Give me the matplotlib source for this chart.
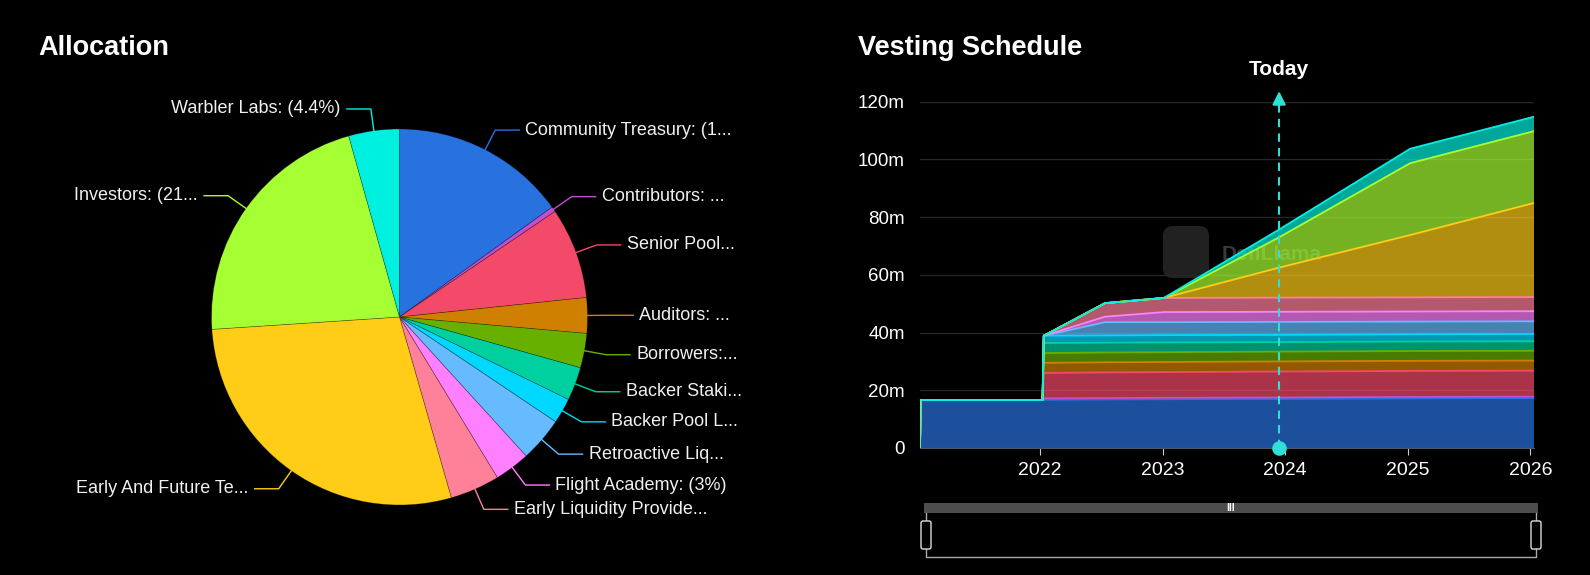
import matplotlib.pyplot as plt
import numpy as np
from matplotlib.patches import FancyBboxPatch, Rectangle

W, H = 1590, 575
BG = '#000000'
FONT = ['Liberation Sans', 'DejaVu Sans']

# allocation (pie) - labels as shown (truncated) and colours
pie_labels = ['Community Treasury: (1...', 'Contributors: ...', 'Senior Pool...',
              'Auditors: ...', 'Borrowers:...', 'Backer Staki...', 'Backer Pool L...',
              'Retroactive Liq...', 'Flight Academy: (3%)', 'Early Liquidity Provide...',
              'Early And Future Te...', 'Investors: (21...', 'Warbler Labs: (4.4%)']
colors = ['#2872e0', '#c050d0', '#f44a6a', '#d08000', '#68b000', '#00d0a0', '#00d8ff',
          '#66bbff', '#ff80ff', '#ff8099', '#ffcc18', '#a6ff33', '#00f0e0']

# vesting schedule, millions of tokens, same order as pie
t = [2021.02, 2021.025, 2022.02, 2022.03, 2022.53, 2023.01, 2023.95, 2025.02, 2026.03]
community = [0, 16.6, 16.6, 16.7, 16.8, 16.9, 17.0, 17.2, 17.3]
contributors = [0, 0, 0, 0.5, 0.5, 0.5, 0.5, 0.5, 0.5]
senior_pool = [0, 0, 0, 8.8, 8.9, 8.9, 9.0, 9.0, 9.0]
auditors = [0, 0, 0, 3.5, 3.5, 3.5, 3.5, 3.5, 3.5]
borrowers = [0, 0, 0, 3.4, 3.4, 3.4, 3.4, 3.4, 3.4]
backer_staking = [0, 0, 0, 3.5, 3.4, 3.4, 3.3, 3.3, 3.3]
backer_pool = [0, 0, 0, 2.5, 2.5, 2.5, 2.5, 2.5, 2.5]
retroactive = [0, 0, 0, 0, 4.6, 4.5, 4.5, 4.4, 4.4]
flight_academy = [0, 0, 0, 0, 1.9, 3.5, 3.5, 3.5, 3.5]
early_liquidity = [0, 0, 0, 0, 4.7, 4.9, 4.9, 4.9, 4.9]
team = [0, 0, 0, 0, 0, 0, 10.4, 21.6, 32.6]
investors = [0, 0, 0, 0, 0, 0, 10.5, 24.9, 24.9]
warbler = [0, 0, 0, 0, 0, 0, 2.7, 5.0, 5.0]
series = [community, contributors, senior_pool, auditors, borrowers, backer_staking,
          backer_pool, retroactive, flight_academy, early_liquidity, team, investors, warbler]
today = 2023.95
years = [2022, 2023, 2024, 2025, 2026]
yticks = [0, 20, 40, 60, 80, 100, 120]

plt.rcParams['font.family'] = FONT
fig = plt.figure(figsize=(W / 100, H / 100), dpi=100, facecolor=BG)

# overlay in pixel coords for titles / slider / watermark
ov = fig.add_axes([0, 0, 1, 1], zorder=0)
ov.set_xlim(0, W)
ov.set_ylim(H, 0)
ov.axis('off')
ov.text(38, 48, 'Allocation', color='white', fontsize=19.5, fontweight='bold', va='center')
ov.text(858, 48, 'Vesting Schedule', color='white', fontsize=19.5, fontweight='bold', va='center')

# ---- pie
cx, cy, r = 399.5, 317, 188
pax = fig.add_axes([(cx - r) / W, (H - cy - r) / H, 2 * r / W, 2 * r / H], zorder=2)
totals = [s[-1] for s in series]
wedges, _ = pax.pie(totals, colors=colors, startangle=90, counterclock=False, radius=1,
                    wedgeprops=dict(linewidth=0.5, edgecolor='#00000055'))
pax.set_xlim(-1, 1)
pax.set_ylim(-1, 1)
len1, len2, gap = 22 / r, 24 / r, 6 / r
for w, lab, col in zip(wedges, pie_labels, colors):
    ang = np.deg2rad((w.theta1 + w.theta2) / 2)
    x0, y0 = np.cos(ang), np.sin(ang)
    x1, y1 = (1 + len1) * np.cos(ang), (1 + len1) * np.sin(ang)
    side = 1 if x1 >= 0 else -1
    x2 = x1 + side * len2
    pax.plot([x0, x1, x2], [y0, y1, y1], color=col, lw=1, clip_on=False)
    pax.text(x2 + side * gap, y1, lab, color='#f0f0f0', fontsize=13,
             ha='left' if side > 0 else 'right', va='center', clip_on=False)

# ---- vesting area chart
ax = fig.add_axes([920 / W, (H - 448) / H, 614 / W, 346.3 / H], zorder=2)
ax.set_facecolor('none')
ax.stackplot(t, *series, colors=colors, alpha=0.7, lw=0)
cum = np.cumsum(np.array(series), axis=0)
for top, col in zip(cum, colors):
    ax.plot(t, top, color=col, lw=1.3)
ax.plot([t[0], t[0]], [0, cum[-1][1]], color='#5ee8c0', lw=1.5)
ax.set_xlim(t[0], t[-1])
ax.set_ylim(0, 120)
ax.set_yticks(yticks)
ax.set_yticklabels(['0' if v == 0 else f'{v}m' for v in yticks])
ax.set_xticks(years)
ax.set_xticklabels([str(y) for y in years])
ax.grid(axis='y', color='#262626', lw=1)
ax.set_axisbelow(True)
for s in ['top', 'right', 'left']:
    ax.spines[s].set_visible(False)
ax.spines['bottom'].set_color('#4a5568')
ax.tick_params(axis='y', length=0, pad=11, labelcolor='white', labelsize=13.5)
ax.tick_params(axis='x', length=5, color='#cccccc', pad=5, labelcolor='white', labelsize=14)

# today marker
tc = '#30e0d8'
ax.plot([today, today], [0, 119.5], color=tc, lw=1.5, ls=(0, (4, 3)), clip_on=False, zorder=5)
ax.annotate('', xy=(today, 124.6), xytext=(today, 119),
            arrowprops=dict(arrowstyle='-|>', color=tc, lw=1.5, mutation_scale=20),
            annotation_clip=False, zorder=5)
ax.scatter([today], [0], s=90, color=tc, zorder=6, clip_on=False)
ax.text(today, 131, 'Today', color='white', fontsize=15, fontweight='bold',
        ha='center', va='center', clip_on=False)

# watermark
ov.add_patch(FancyBboxPatch((1163, 226), 46, 52, boxstyle='round,pad=0,rounding_size=10',
                            fc='#2a2a2a', ec='none', alpha=0.8, zorder=3))
ov.text(1222, 254, 'DefiLlama', color='#3a3a3a', fontsize=15, fontweight='bold',
        va='center', zorder=3)

# data zoom slider
ov.add_patch(Rectangle((924, 503), 614, 10, fc='#4d4d4d', ec='none'))
ov.text(1231, 508, 'III', color='white', fontsize=7.5, ha='center', va='center', fontweight='bold')
ov.plot([926, 926, 1536, 1536], [513, 557, 557, 513], color='#aaaaaa', lw=1)
for hx in (926, 1536):
    ov.add_patch(FancyBboxPatch((hx - 5, 521), 10, 28, boxstyle='round,pad=0,rounding_size=2',
                                fc='black', ec='#dddddd', lw=1, zorder=4))

fig.savefig('out.png', dpi=100, facecolor=BG)
